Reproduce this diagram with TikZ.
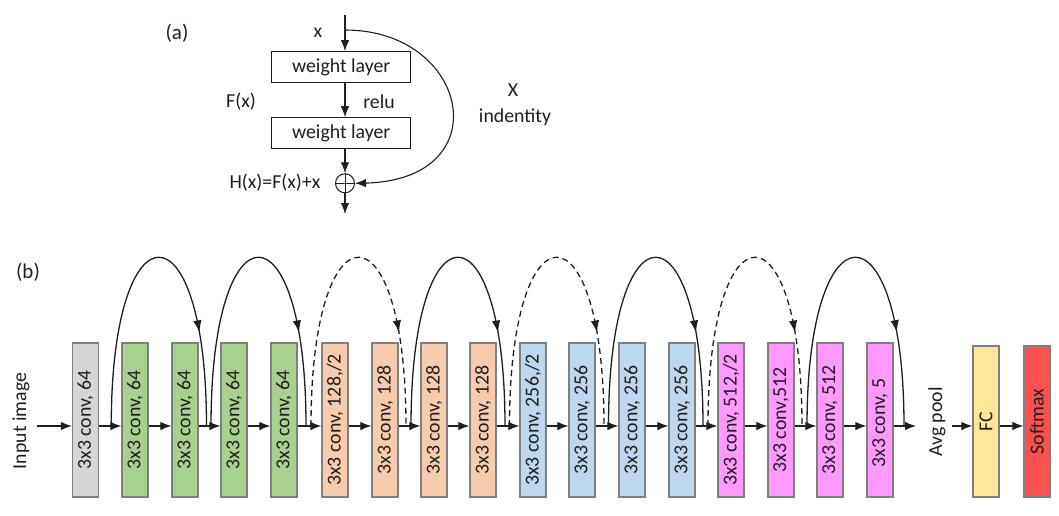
\documentclass[tikz,border=0pt]{standalone}
\usepackage{fontspec}
\setmainfont{Carlito}
\usetikzlibrary{arrows.meta,decorations.markings,calc}
\definecolor{cgray}{HTML}{D6D6D6}
\definecolor{cgreen}{HTML}{A9D18E}
\definecolor{csalmon}{HTML}{F8CBAD}
\definecolor{cblue}{HTML}{BDD7EE}
\definecolor{cpink}{HTML}{FF99FF}
\definecolor{cyellow}{HTML}{FFE699}
\definecolor{cred}{HTML}{FF5050}
\definecolor{bord}{HTML}{7F7F7F}
\definecolor{txt}{HTML}{1E1E1E}
\begin{document}
\begin{tikzpicture}[x=1pt,y=-1pt,
  every node/.style={font=\fontsize{19.8}{21}\selectfont, text=txt},
  conv/.style={draw=bord, line width=1.2pt, minimum width=26pt, minimum height=154pt, inner sep=0pt},
  lbl/.style={rotate=90, inner sep=0pt},
  wl/.style={draw=txt, line width=1.1pt, minimum width=139pt, minimum height=31pt, inner sep=0pt},
  arr/.style={line width=1.1pt, draw=txt, -{Latex[length=11pt,width=8.5pt]}},
  skipline/.style={line width=1.3pt, draw=txt, postaction={decorate},
    decoration={markings, mark=at position 0.745 with {\arrow[txt]{Latex[length=12pt,width=8.5pt]}}}},
  solidarc/.style={solid},
  dasharc/.style={dash pattern=on 6pt off 4pt},
  sumc/.style={circle, draw=txt, line width=1pt, minimum size=19pt, inner sep=0pt}
]
\useasboundingbox (0,0) rectangle (1059,516);
% ---------- (a) ----------
\node[font=\fontsize{21}{23}\selectfont] at (177,33) {(a)};
\coordinate (atop) at (345,15);
\coordinate (asplit) at (345,30);
\node[wl] (w1) at (341.2,67.2) {weight layer};
\node[wl] (w2) at (341.2,133.3) {weight layer};
\node[sumc] (sum) at (345,183.3) {};
\draw[txt, line width=1pt] (sum.north) -- (sum.south) (sum.west) -- (sum.east);
\coordinate (aout) at (345,214);
\draw[arr] (atop) -- (atop |- w1.north);
\draw[arr] (w1.south -| atop) -- (w2.north -| atop);
\draw[arr] (w2.south -| atop) -- (sum.north);
\draw[arr] (sum.south) -- (aout);
\draw[arr] (asplit) .. controls (470,30) and (500,180) .. (sum.east);
\node (lx) at (318,33) {x};
\node (lfx) at (241,102) {F(x)};
\node (lrelu) at (379,102) {relu};
\node (lX) at (513,90) {X};
\node (lid) at (515,117) {indentity};
\node (lh) at (275,183) {H(x)=F(x)+x};
% ---------- (b) ----------
\node[font=\fontsize{21}{23}\selectfont] at (28,272) {(b)};
\coordinate (ml) at (0,426);
\node[lbl] (inp) at (21,421) {Input image};
\coordinate (inarr) at (37,426);
\node[conv, fill=cgray] (b0) at (85.5,420) {};
\node[conv, fill=cgreen] (b1) at (135,420) {};
\node[conv, fill=cgreen] (b2) at (185,420) {};
\node[conv, fill=cgreen] (b3) at (234,420) {};
\node[conv, fill=cgreen] (b4) at (284,420) {};
\node[conv, fill=csalmon] (b5) at (335,420) {};
\node[conv, fill=csalmon] (b6) at (385,420) {};
\node[conv, fill=csalmon] (b7) at (434,420) {};
\node[conv, fill=csalmon] (b8) at (483,420) {};
\node[conv, fill=cblue] (b9) at (533,420) {};
\node[conv, fill=cblue] (b10) at (582,420) {};
\node[conv, fill=cblue] (b11) at (632,420) {};
\node[conv, fill=cblue] (b12) at (682,420) {};
\node[conv, fill=cpink] (b13) at (731,420) {};
\node[conv, fill=cpink] (b14) at (781,420) {};
\node[conv, fill=cpink] (b15) at (830,420) {};
\node[conv, fill=cpink] (b16) at (880,420) {};
\node[conv, fill=cyellow, minimum height=151pt] (fc) at (986,421.5) {};
\node[conv, fill=cred, minimum height=151pt] (sm) at (1037,421.5) {};
\node[lbl] at (b0) {3x3 conv, 64};
\node[lbl] at (b1) {3x3 conv, 64};
\node[lbl] at (b2) {3x3 conv, 64};
\node[lbl] at (b3) {3x3 conv, 64};
\node[lbl] at (b4) {3x3 conv, 64};
\node[lbl] at (b5) {3x3 conv, 128,/2};
\node[lbl] at (b6) {3x3 conv, 128};
\node[lbl] at (b7) {3x3 conv, 128};
\node[lbl] at (b8) {3x3 conv, 128};
\node[lbl] at (b9) {3x3 conv, 256,/2};
\node[lbl] at (b10) {3x3 conv, 256};
\node[lbl] at (b11) {3x3 conv, 256};
\node[lbl] at (b12) {3x3 conv, 256};
\node[lbl] at (b13) {3x3 conv, 512,/2};
\node[lbl] at (b14) {3x3 conv,512};
\node[lbl] at (b15) {3x3 conv, 512};
\node[lbl] at ([yshift=-3pt]b16) {3x3 conv, 5};
\node[lbl] at (fc) {FC};
\node[lbl] at (sm) {Softmax};
\node[lbl] (ap) at (937,422) {Avg pool};
\coordinate (apin) at (916,426);
\coordinate (apout) at (952,426);
% main line arrows
\draw[arr] (inarr) -- (b0.west |- ml);
\foreach \a/\b in {b0/b1,b1/b2,b2/b3,b3/b4,b4/b5,b5/b6,b6/b7,b7/b8,b8/b9,b9/b10,b10/b11,b11/b12,b12/b13,b13/b14,b14/b15,b15/b16}
  \draw[arr] (\a.east |- ml) -- (\b.west |- ml);
\draw[arr] (b16.east |- ml) -- (apin);
\draw[arr] (apout) -- (fc.west |- ml);
\draw[arr] (fc.east |- ml) -- (sm.west |- ml);
% skip connections
\foreach \k/\s/\e/\st in {0/111.25/206.5/solidarc, 1/211/306/solidarc, 2/311/406/dasharc, 3/411/505/solidarc, 4/509.5/604/dasharc, 5/608.5/703/solidarc, 6/708/802/dasharc, 7/807/904/solidarc}{
  \coordinate (s\k) at (\s,426);
  \coordinate (e\k) at (\e,426);
  \draw[skipline, \st] (s\k) .. controls ($(s\k)+(0,-225)$) and ($(e\k)+(0,-225)$) .. (e\k);
}
\end{tikzpicture}
\end{document}
